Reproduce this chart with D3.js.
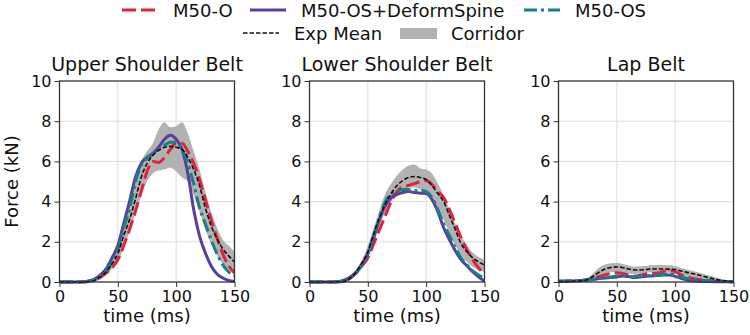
<!DOCTYPE html>
<html>
<head>
<meta charset="utf-8">
<script src="https://cdn.jsdelivr.net/npm/d3@7"></script>
<style>
  body { margin: 0; background: #fff; }
  text { font-family: "DejaVu Sans", sans-serif; fill: #111; }
</style>
</head>
<body>
<div id="chart"></div>
<script>
// time samples (ms)
const time = [0, 5, 10, 15, 20, 25, 30, 35, 40, 45, 50, 55, 60, 65, 70, 75, 80, 85, 90, 95, 100, 105, 110, 115, 120, 125, 130, 135, 140, 145, 150];

// Upper shoulder belt (kN)
const upperExp    = [0, 0, 0, 0, 0, 0.02, 0.08, 0.25, 0.5, 0.9, 1.4, 2.3, 3.1, 4.1, 5.2, 5.9, 6.3, 6.55, 6.7, 6.75, 6.7, 6.6, 6.2, 5.6, 4.8, 3.7, 2.8, 2.15, 1.65, 1.3, 1.0];
const upperHi     = [0, 0, 0, 0, 0, 0.05, 0.15, 0.4, 0.8, 1.3, 2.0, 2.9, 4.1, 5.2, 6.0, 6.5, 6.9, 7.6, 7.95, 7.7, 7.75, 7.95, 7.4, 6.5, 5.6, 4.5, 3.5, 2.7, 2.1, 1.8, 1.5];
const upperLo     = [0, 0, 0, 0, 0, 0, 0.03, 0.12, 0.35, 0.65, 1.0, 1.7, 2.5, 3.4, 4.3, 5.0, 5.4, 5.55, 5.6, 5.7, 5.5, 5.2, 5.0, 4.3, 3.5, 2.6, 1.9, 1.3, 0.9, 0.65, 0.5];
const upperM50O   = [0, 0, 0, 0, 0, 0.03, 0.1, 0.25, 0.45, 0.7, 1.1, 1.8, 2.6, 3.5, 4.5, 5.5, 6.0, 5.95, 6.2, 6.6, 6.9, 6.9, 6.5, 5.9, 5.1, 4.1, 3.1, 2.2, 1.4, 0.8, 0.45];
const upperDeform = [0, 0, 0, 0, 0.01, 0.05, 0.15, 0.35, 0.65, 1.2, 1.8, 2.9, 4.0, 5.2, 5.9, 6.2, 6.4, 6.7, 7.1, 7.3, 7.1, 6.6, 5.4, 3.6, 2.3, 1.45, 0.8, 0.4, 0.2, 0.08, 0.03];
const upperM50OS  = [0, 0, 0, 0, 0.01, 0.04, 0.12, 0.3, 0.55, 1.0, 1.6, 2.7, 3.6, 4.95, 5.8, 6.15, 6.35, 6.6, 6.8, 6.95, 6.95, 6.6, 5.9, 4.9, 3.7, 2.9, 2.1, 1.4, 0.85, 0.5, 0.3];

// Lower shoulder belt (kN)
const lowerExp    = [0, 0, 0, 0, 0, 0.01, 0.03, 0.2, 0.5, 0.95, 1.5, 2.4, 3.2, 3.9, 4.4, 4.8, 5.05, 5.2, 5.25, 5.2, 5.1, 4.8, 4.4, 4.0, 3.3, 2.6, 1.9, 1.5, 1.2, 1.0, 0.85];
const lowerHi     = [0, 0, 0, 0, 0, 0.02, 0.1, 0.3, 0.6, 1.1, 1.8, 2.7, 3.6, 4.4, 4.9, 5.3, 5.6, 5.8, 5.85, 5.65, 5.6, 5.4, 4.9, 4.3, 3.6, 2.9, 2.3, 1.8, 1.45, 1.25, 1.1];
const lowerLo     = [0, 0, 0, 0, 0, 0, 0, 0.1, 0.35, 0.7, 1.2, 2.0, 2.8, 3.5, 4.0, 4.4, 4.6, 4.7, 4.7, 4.6, 4.5, 4.2, 3.7, 3.1, 2.4, 1.8, 1.35, 1.0, 0.75, 0.6, 0.5];
const lowerM50O   = [0, 0, 0, 0, 0, 0.01, 0.05, 0.2, 0.45, 0.8, 1.2, 1.9, 2.6, 3.3, 4.0, 4.5, 4.75, 4.8, 4.9, 5.0, 5.05, 4.85, 4.5, 4.2, 3.6, 2.9, 2.2, 1.6, 1.1, 0.7, 0.4];
const lowerDeform = [0, 0, 0, 0, 0, 0.02, 0.1, 0.25, 0.5, 0.9, 1.4, 2.2, 3.1, 3.8, 4.2, 4.35, 4.45, 4.5, 4.45, 4.42, 4.4, 4.1, 3.5, 2.7, 2.1, 1.55, 1.1, 0.8, 0.5, 0.25, 0.05];
const lowerM50OS  = [0, 0, 0, 0, 0, 0.01, 0.05, 0.2, 0.45, 0.85, 1.4, 2.3, 3.2, 4.0, 4.4, 4.5, 4.6, 4.6, 4.55, 4.55, 4.5, 4.2, 3.6, 2.9, 2.3, 1.7, 1.2, 0.85, 0.55, 0.35, 0.18];

// Lap belt (kN)
const lapExp    = [0.02, 0.02, 0.03, 0.04, 0.06, 0.12, 0.3, 0.5, 0.65, 0.72, 0.75, 0.72, 0.65, 0.6, 0.6, 0.62, 0.65, 0.65, 0.65, 0.63, 0.62, 0.55, 0.48, 0.42, 0.35, 0.27, 0.2, 0.13, 0.08, 0.04, 0.02];
const lapHi     = [0.03, 0.03, 0.05, 0.07, 0.1, 0.2, 0.45, 0.72, 0.87, 0.93, 0.95, 0.9, 0.82, 0.76, 0.78, 0.8, 0.84, 0.85, 0.85, 0.83, 0.8, 0.7, 0.62, 0.55, 0.47, 0.39, 0.31, 0.23, 0.15, 0.09, 0.04];
const lapLo     = [0, 0, 0.01, 0.02, 0.03, 0.06, 0.18, 0.32, 0.42, 0.48, 0.5, 0.48, 0.42, 0.4, 0.42, 0.45, 0.48, 0.48, 0.48, 0.45, 0.4, 0.32, 0.24, 0.18, 0.13, 0.09, 0.06, 0.03, 0.02, 0.01, 0];
const lapM50O   = [0.04, 0.04, 0.05, 0.06, 0.08, 0.12, 0.2, 0.28, 0.36, 0.42, 0.46, 0.42, 0.36, 0.3, 0.34, 0.4, 0.42, 0.45, 0.52, 0.58, 0.52, 0.36, 0.25, 0.18, 0.13, 0.09, 0.06, 0.04, 0.03, 0.02, 0.01];
const lapDeform = [0.04, 0.04, 0.05, 0.06, 0.07, 0.09, 0.12, 0.17, 0.2, 0.22, 0.25, 0.3, 0.27, 0.22, 0.25, 0.28, 0.3, 0.32, 0.35, 0.35, 0.28, 0.18, 0.1, 0.06, 0.04, 0.03, 0.02, 0.01, 0.01, 0.01, 0];
const lapM50OS  = [0.04, 0.04, 0.05, 0.06, 0.08, 0.11, 0.15, 0.2, 0.22, 0.25, 0.3, 0.32, 0.28, 0.25, 0.28, 0.32, 0.33, 0.33, 0.38, 0.4, 0.35, 0.25, 0.18, 0.13, 0.1, 0.07, 0.05, 0.04, 0.03, 0.02, 0.01];

const xTicks = [0, 50, 100, 150];
const yTicks = [0, 2, 4, 6, 8, 10];

const panels = [
    { title: "Upper Shoulder Belt", hi: upperHi, lo: upperLo, m50o: upperM50O, deform: upperDeform, m50os: upperM50OS, exp: upperExp },
    { title: "Lower Shoulder Belt", hi: lowerHi, lo: lowerLo, m50o: lowerM50O, deform: lowerDeform, m50os: lowerM50OS, exp: lowerExp },
    { title: "Lap Belt", hi: lapHi, lo: lapLo, m50o: lapM50O, deform: lapDeform, m50os: lapM50OS, exp: lapExp }
];

// line styles, drawn in this order on top of the corridor
const series = [
    { key: "m50o",   label: "M50-O",              color: "#e2223a", width: 3,   dash: "14,5" },
    { key: "deform", label: "M50-OS+DeformSpine", color: "#5b3c9f", width: 3,   dash: null },
    { key: "m50os",  label: "M50-OS",             color: "#148088", width: 3,   dash: "13,4,3,4" },
    { key: "exp",    label: "Exp Mean",           color: "#111111", width: 1.6, dash: "4.5,2" }
];
const corridorColor = "#b2b2b2";

const W = 750, H = 335;
const panelLeft = [59.5, 309.5, 558.5];
const pw = 175, plotTop = 81, ph = 201;

const svg = d3.select("#chart").append("svg")
    .attr("width", W)
    .attr("height", H);

const x = d3.scaleLinear().domain([0, 150]).range([0, pw]);
const y = d3.scaleLinear().domain([0, 10]).range([ph, 0]);

const area = d3.area()
    .x((d, i) => x(time[i]))
    .y0(d => y(d[0]))
    .y1(d => y(d[1]))
    .curve(d3.curveMonotoneX);

const line = d3.line()
    .x((d, i) => x(time[i]))
    .y(d => y(d))
    .curve(d3.curveMonotoneX);

panels.forEach((p, pi) => {
    const g = svg.append("g")
        .attr("transform", `translate(${panelLeft[pi]}, ${plotTop})`);

    // grid
    g.append("g").selectAll("line")
        .data(xTicks.slice(1, -1))
        .join("line")
        .attr("x1", d => x(d)).attr("x2", d => x(d))
        .attr("y1", 0).attr("y2", ph)
        .attr("stroke", "#dddddd").attr("stroke-width", 1);
    g.append("g").selectAll("line")
        .data(yTicks.slice(1, -1))
        .join("line")
        .attr("x1", 0).attr("x2", pw)
        .attr("y1", d => y(d)).attr("y2", d => y(d))
        .attr("stroke", "#dddddd").attr("stroke-width", 1);

    // corridor
    const band = p.lo.map((v, i) => [v, p.hi[i]]);
    g.append("path")
        .attr("d", area(band))
        .attr("fill", corridorColor);

    // curves
    const clip = "clip" + pi;
    g.append("clipPath").attr("id", clip)
        .append("rect").attr("x", 0).attr("y", -2).attr("width", pw).attr("height", ph + 4);

    series.forEach(s => {
        g.append("path")
            .attr("d", line(p[s.key]))
            .attr("clip-path", `url(#${clip})`)
            .attr("fill", "none")
            .attr("stroke", s.color)
            .attr("stroke-width", s.width)
            .attr("stroke-dasharray", s.dash)
            .attr("stroke-linejoin", "round");
    });

    // axes
    const xAxis = g.append("g")
        .attr("transform", `translate(0, ${ph})`)
        .call(d3.axisBottom(x).tickValues(xTicks).tickSize(5).tickPadding(4));
    const yAxis = g.append("g")
        .call(d3.axisLeft(y).tickValues(yTicks).tickSize(5).tickPadding(3));

    [xAxis, yAxis].forEach(a => {
        a.selectAll("text").style("font-size", "16px").attr("fill", "#111");
        a.selectAll("line").attr("stroke", "#333");
        a.select(".domain").remove();
    });

    // spines
    g.append("rect")
        .attr("width", pw).attr("height", ph)
        .attr("fill", "none")
        .attr("stroke", "#333").attr("stroke-width", 1.3);

    // title
    g.append("text")
        .attr("x", pw / 2)
        .attr("y", -10)
        .attr("text-anchor", "middle")
        .style("font-size", "19px")
        .text(p.title);

    // x label
    g.append("text")
        .attr("x", pw / 2)
        .attr("y", ph + 40)
        .attr("text-anchor", "middle")
        .style("font-size", "18px")
        .text("time (ms)");

    if (pi === 0) {
        g.append("text")
            .attr("transform", `translate(${-42}, ${ph / 2}) rotate(-90)`)
            .attr("text-anchor", "middle")
            .style("font-size", "18px")
            .text("Force (kN)");
    }
});

// legend
const legendItems = [
    { s: series[0], x: 122, y: 10 },
    { s: series[1], x: 250, y: 10 },
    { s: series[2], x: 524, y: 10 },
    { s: series[3], x: 243, y: 33 },
    { s: null, label: "Corridor", x: 400, y: 33 }
];

const legend = svg.append("g").attr("class", "legend");
legendItems.forEach(it => {
    const lg = legend.append("g").attr("transform", `translate(${it.x}, ${it.y})`);
    if (it.s) {
        lg.append("line")
            .attr("x1", 0).attr("x2", 36)
            .attr("stroke", it.s.color)
            .attr("stroke-width", it.s.width)
            .attr("stroke-dasharray", it.s.dash);
    } else {
        lg.append("rect")
            .attr("x", 0).attr("y", -5).attr("width", 37).attr("height", 11)
            .attr("fill", corridorColor);
    }
    lg.append("text")
        .attr("x", 51)
        .attr("y", 6.5)
        .style("font-size", "18px")
        .text(it.s ? it.s.label : it.label);
});
</script>
</body>
</html>
